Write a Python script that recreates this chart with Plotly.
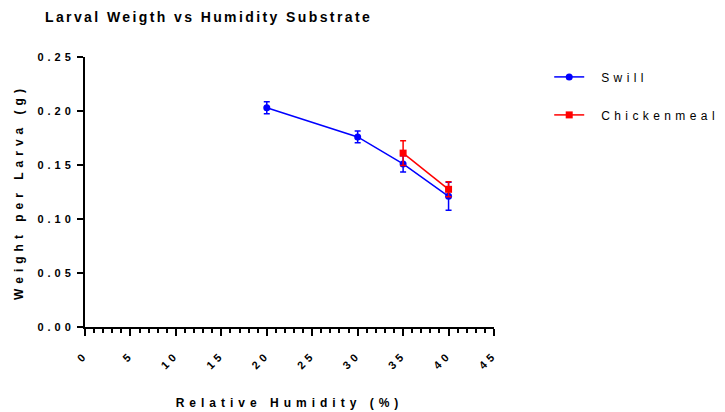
import plotly.graph_objects as go

# Data
swill_x = [20, 30, 35, 40]
swill_y = [0.203, 0.176, 0.151, 0.121]
swill_err = [0.0055, 0.0055, 0.0075, 0.013]

chick_x = [35, 40]
chick_y = [0.161, 0.1275]
chick_err = [0.0115, 0.007]

x_ticks = [0, 5, 10, 15, 20, 25, 30, 35, 40, 45]
y_ticks = [0.0, 0.05, 0.10, 0.15, 0.20, 0.25]

FONT = "Liberation Sans, Arial, sans-serif"

fig = go.Figure()
fig.add_trace(go.Scatter(
    x=swill_x, y=swill_y, name="Swill", mode="lines+markers",
    line=dict(color="#0000ff", width=1.5),
    marker=dict(symbol="circle", size=7, color="#0000ff"),
    error_y=dict(type="data", array=swill_err, visible=True, color="#0000ff", thickness=1.5, width=3),
    legendgroup="a",
))
fig.add_trace(go.Scatter(
    x=chick_x, y=chick_y, name="Chickenmeal", mode="lines+markers",
    line=dict(color="#ff0000", width=1.5),
    marker=dict(symbol="square", size=7, color="#ff0000"),
    error_y=dict(type="data", array=chick_err, visible=True, color="#ff0000", thickness=1.5, width=3),
    legendgroup="b",
))

fig.update_layout(
    width=725, height=412,
    margin=dict(l=85, r=231, t=57, b=85),
    paper_bgcolor="white", plot_bgcolor="white",
    font=dict(family=FONT, color="black"),
    title=dict(text="<b>Larval Weigth vs Humidity Substrate</b>", xref="container", x=0.062, xanchor="left",
               yref="container", y=0.97, yanchor="top", font=dict(size=14, family=FONT, color="black")),
    showlegend=True,
    legend=dict(x=1.135, xanchor="left", y=0.98, yanchor="top", font=dict(size=12, family=FONT),
                tracegroupgap=19, bgcolor="rgba(0,0,0,0)", itemwidth=30),
    xaxis=dict(
        range=[0, 45], tickmode="array", tickvals=x_ticks, ticktext=[str(v) for v in x_ticks],
        showgrid=False, zeroline=False, showline=True, linecolor="black", linewidth=2,
        ticks="outside", ticklen=7, tickwidth=2, tickcolor="black", tickangle=-45,
        tickfont=dict(size=11, family=FONT, weight="bold"), ticklabelstandoff=8,
        minor=dict(dtick=1, ticks="outside", ticklen=4, tickwidth=1.5, tickcolor="black", showgrid=False),
        title=dict(text="<b>Relative Humidity (%)</b>", font=dict(size=12, family=FONT), standoff=34),
        automargin=False,
    ),
    yaxis=dict(
        range=[0, 0.25], tickmode="array", tickvals=y_ticks, ticktext=["%.2f" % v for v in y_ticks],
        showgrid=False, zeroline=False, showline=True, linecolor="black", linewidth=2,
        ticks="outside", ticklen=6, tickwidth=2, tickcolor="black",
        tickfont=dict(size=11, family=FONT, weight="bold"),
        title=dict(text="<b>Weight per Larva (g)</b>", font=dict(size=12, family=FONT), standoff=27),
        automargin=False,
    ),
)

post = """
var st = document.createElement('style');
st.innerHTML = '.gtitle{letter-spacing:2.4px} .xtitle,.ytitle{letter-spacing:5px} .xtick text,.ytick text{letter-spacing:4px} .legendtext{letter-spacing:4.4px; transform:translateX(12px)} .legend .scrollbox, .legend *{clip-path:none !important}';
document.head.appendChild(st);
"""
fig.write_html("out.html", post_script=post)
